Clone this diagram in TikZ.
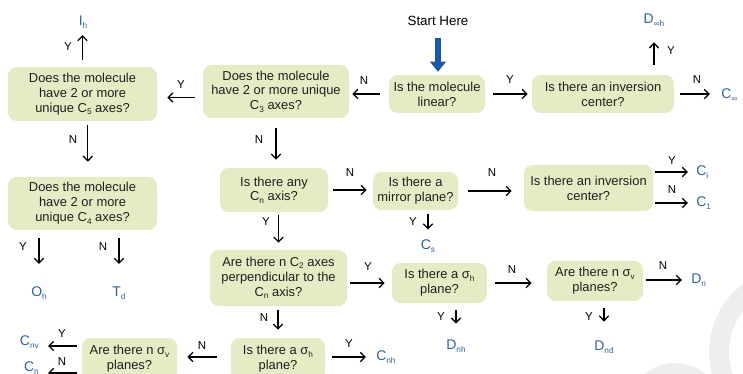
\documentclass[tikz,border=0pt]{standalone}
\usepackage{fontspec}
\setmainfont{Liberation Sans}
\usetikzlibrary{arrows.meta}
\definecolor{boxfill}{RGB}{229,235,196}
\definecolor{resblue}{RGB}{47,96,158}
\definecolor{startblue}{RGB}{30,88,165}
\newcommand\lo[1]{\raisebox{-0.35ex}{\fontsize{6.2}{6.2}\selectfont #1}}
\begin{document}
\begin{tikzpicture}[x=0.75pt,y=-0.75pt,
  qbox/.style={fill=boxfill, rounded corners=6.5pt, align=center, inner sep=1pt,
    font=\fontsize{9.7}{11.2}\selectfont, text=black!88},
  res/.style={text=resblue, inner sep=0pt, font=\fontsize{10.5}{12}\selectfont},
  yn/.style={inner sep=0pt, font=\fontsize{8.6}{10}\selectfont},
  arr/.style={-{Straight Barb[length=3.6pt,width=7pt]}, line width=0.95pt, black}]
\useasboundingbox (0,0) rectangle (743,374);
\clip (0,0) rectangle (743,374);
% faint watermark
\draw[gray!13, line width=15pt] (794,352) circle[radius=56.25pt];
\draw[gray!13, line width=10.5pt] (675,410) circle[radius=30pt];
% question boxes
\node[qbox, minimum width=111.75pt, minimum height=40.5pt] (c5) at (82.5,94) {Does the molecule\\have 2 or more\\unique C\lo{5} axes?};
\node[qbox, minimum width=109.5pt, minimum height=39.75pt] (c3) at (276,91.5) {Does the molecule\\have 2 or more unique\\C\lo{3} axes?};
\node[qbox, minimum width=72pt, minimum height=28.5pt] (lin) at (437,94) {Is the molecule\\linear?};
\node[qbox, minimum width=106.5pt, minimum height=28.5pt] (inv1) at (603,94) {Is there an inversion\\center?};
\node[qbox, minimum width=111.75pt, minimum height=39.75pt] (c4) at (82.5,203.5) {Does the molecule\\have 2 or more\\unique C\lo{4} axes?};
\node[qbox, minimum width=81pt, minimum height=33pt] (cn) at (274,190) {Is there any\\C\lo{n} axis?};
\node[qbox, minimum width=63.75pt, minimum height=28.5pt] (mir) at (415.5,191) {Is there a\\mirror plane?};
\node[qbox, minimum width=96.75pt, minimum height=34.5pt] (inv2) at (588.5,188) {Is there an inversion\\center?};
\node[qbox, minimum width=102.75pt, minimum height=42pt] (nc2) at (278.5,278) {Are there n C\lo{2} axes\\perpendicular to the\\C\lo{n} axis?};
\node[qbox, minimum width=71.25pt, minimum height=30pt] (sh1) at (439.5,283) {Is there a σ\lo{h}\\plane?};
\node[qbox, minimum width=72pt, minimum height=30pt] (sv1) at (595,281) {Are there n σ\lo{v}\\planes?};
\node[qbox, minimum width=70.5pt, minimum height=31.5pt] (sh2) at (278,359) {Is there a σ\lo{h}\\plane?};
\node[qbox, minimum width=71.25pt, minimum height=31.5pt] (sv2) at (129.5,359) {Are there n σ\lo{v}\\planes?};
% results
\node[res] (Ih) at (83,22) {I\lo{h}};
\node[res] (Dinfh) at (654,20) {D\lo{∞h}};
\node[res, anchor=west] (Cinf) at (721,95) {C\lo{∞}};
\node[res] (Oh) at (39,293) {O\lo{h}};
\node[res] (Td) at (119,293) {T\lo{d}};
\node[res, anchor=west] (Ci) at (696,172) {C\lo{i}};
\node[res, anchor=west] (C1) at (696,203) {C\lo{1}};
\node[res] (Cs) at (428,246) {C\lo{s}};
\node[res] (Dnh) at (456,346) {D\lo{nh}};
\node[res] (Dnd) at (604,347) {D\lo{nd}};
\node[res, anchor=west] (Dn) at (691,280) {D\lo{n}};
\node[res, anchor=west] (Cnh) at (376,357) {C\lo{nh}};
\node[res, anchor=east] (Cnv) at (39,342) {C\lo{nv}};
\node[res, anchor=east] (Cn) at (39,368) {C\lo{n}};
% start
\node[inner sep=0pt, font=\fontsize{10}{12}\selectfont] (start) at (438,21) {Start Here};
\draw[-{Triangle[length=7.5pt,width=11.5pt]}, line width=4.5pt, startblue, shorten <=9pt, shorten >=2.25pt] (start.south) -- (start.south |- lin.north);
% connectors
\draw[arr, shorten <=5.25pt, shorten >=9.75pt] (c5.north) -- (c5.north |- Ih.center);
\node[yn] at (68,47) {Y};
\draw[arr, shorten <=6pt, shorten >=7.5pt] ([yshift=-4.5pt]c3.west) -- ([yshift=-4.5pt]c3.west -| c5.east);
\node[yn] at (181,85) {Y};
\draw[arr, shorten <=6.75pt, shorten >=2.25pt] (lin.west) -- (lin.west -| c3.east);
\node[yn] at (364,81) {N};
\draw[arr, shorten <=6pt, shorten >=3pt] (lin.east) -- (lin.east -| inv1.west);
\node[yn] at (510,80) {Y};
\draw[arr, shorten <=4.5pt, shorten >=8.25pt] (inv1.east) -- (inv1.east -| Cinf.west);
\node[yn] at (697,80) {N};
\draw[arr, shorten <=7.5pt, shorten >=12pt] (inv1.north -| Dinfh) -- (Dinfh);
\node[yn] at (671,51) {Y};
\draw[arr, shorten <=3pt, shorten >=11.25pt] ([xshift=4pt]c5.south) -- ([xshift=4pt]c5.south |- c4.north);
\node[yn] at (73,140) {N};
\draw[arr, shorten <=6pt, shorten >=17pt] (c4.south -| Oh) -- (Oh);
\node[yn] at (23,247) {Y};
\draw[arr, shorten <=6pt, shorten >=17pt] (c4.south -| Td) -- (Td);
\node[yn] at (103,247) {N};
\draw[arr, shorten <=7.5pt, shorten >=6pt] (c3.south) -- (c3.south |- cn.north);
\node[yn] at (259,140) {N};
\draw[arr, shorten <=3.75pt, shorten >=4.5pt] (cn.east) -- (cn.east -| mir.west);
\node[yn] at (350,173) {N};
\draw[arr, shorten <=7.5pt, shorten >=9pt] (mir.east) -- (mir.east -| inv2.west);
\node[yn] at (492,173) {N};
\draw[arr, shorten <=1.5pt, shorten >=6pt] (inv2.east |- Ci.west) -- (Ci.west);
\node[yn] at (672,161) {Y};
\draw[arr, shorten <=1.5pt, shorten >=6pt] (inv2.east |- C1.west) -- (C1.west);
\node[yn] at (672,190) {N};
\draw[arr, shorten <=3pt, shorten >=7.5pt] (mir.south -| Cs) -- (Cs);
\node[yn] at (413,222) {Y};
\draw[arr, shorten <=2.25pt, shorten >=5.25pt] (cn.south -| nc2.north) -- (nc2.north);
\node[yn] at (266,222) {Y};
\draw[arr, shorten <=2.25pt, shorten >=5.25pt] (nc2.east |- sh1.west) -- (sh1.west);
\node[yn] at (368,267) {Y};
\draw[arr, shorten <=6pt, shorten >=11.25pt] (sh1.east) -- (sh1.east -| sv1.west);
\node[yn] at (512,270) {N};
\draw[arr, shorten <=2.25pt, shorten >=6.75pt] (sv1.east |- Dn.west) -- (Dn.west);
\node[yn] at (663,266) {N};
\draw[arr, shorten <=5.25pt, shorten >=14.25pt] (sv1.south -| Dnd) -- (Dnd);
\node[yn] at (589,317) {Y};
\draw[arr, shorten <=5.25pt, shorten >=12pt] (sh1.south -| Dnh) -- (Dnh);
\node[yn] at (441,317) {Y};
\draw[arr, shorten <=3pt, shorten >=6pt] (nc2.south -| sh2.north) -- (sh2.north);
\node[yn] at (264,318) {N};
\draw[arr, shorten <=5.25pt, shorten >=7.5pt] (sh2.east |- Cnh.west) -- (Cnh.west);
\node[yn] at (349,344) {Y};
\draw[arr, shorten <=10.5pt, shorten >=7.5pt] ([yshift=1.5pt]sh2.west) -- ([yshift=1.5pt]sh2.west -| sv2.east);
\node[yn] at (202,346) {N};
\draw[arr, shorten <=3.75pt, shorten >=6.75pt] ([yshift=9.75pt]sv2.west) -- ([yshift=9.75pt]sv2.west -| Cnv.east);
\node[yn] at (62,334) {Y};
\draw[arr, shorten <=3.75pt, shorten >=6.75pt] ([yshift=-10.5pt]sv2.west) -- ([yshift=-10.5pt]sv2.west -| Cn.east);
\node[yn] at (62,362) {N};
\end{tikzpicture}
\end{document}
